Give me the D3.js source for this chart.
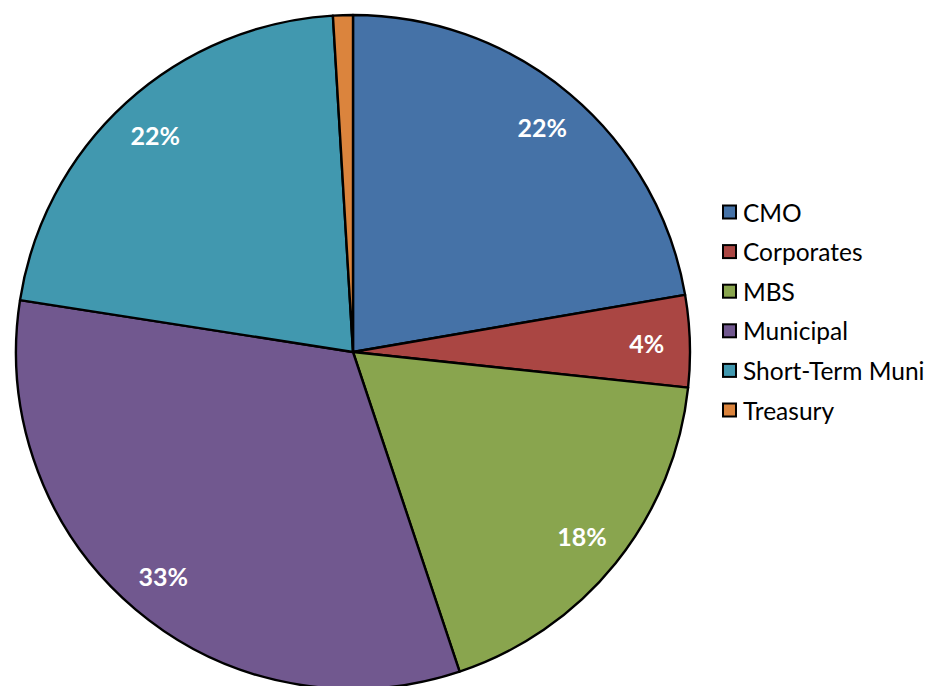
<!DOCTYPE html>
<html>
<head>
<meta charset="utf-8">
<script src="https://cdn.jsdelivr.net/npm/d3@7"></script>
<style>
  html, body { margin: 0; padding: 0; background: #ffffff; }
  svg { display: block; }
</style>
</head>
<body>
<svg id="chart" width="932" height="686"></svg>
<script>
const categories = ["CMO", "Corporates", "MBS", "Municipal", "Short-Term Muni", "Treasury"];
const values = [22.3, 4.4, 18.2, 32.6, 21.6, 0.95];
const colors = ["#4572A7", "#AA4643", "#89A54E", "#71588F", "#4198AF", "#DB843D"];

const svg = d3.select("#chart");
const cx = 353, cy = 352, R = 337;
const data = categories.map((c, i) => ({ name: c, value: values[i], color: colors[i] }));
const total = d3.sum(values);

const pie = d3.pie().sort(null).value(d => d.value);
const arc = d3.arc().innerRadius(0).outerRadius(R);
const labelArc = d3.arc().innerRadius(R * 0.872).outerRadius(R * 0.872);

const g = svg.append("g").attr("transform", `translate(${cx},${cy})`);
const arcs = pie(data);

g.selectAll("path.slice").data(arcs).join("path")
  .attr("class", "slice")
  .attr("d", arc)
  .attr("fill", d => d.data.color)
  .attr("stroke", "#000")
  .attr("stroke-width", 2.4)
  .attr("stroke-linejoin", "round");

g.selectAll("text.lbl").data(arcs.filter(d => d.data.value / total >= 0.02)).join("text")
  .attr("class", "lbl")
  .attr("transform", d => `translate(${labelArc.centroid(d)})`)
  .attr("text-anchor", "middle")
  .attr("dominant-baseline", "central")
  .attr("font-family", "Lato, 'Open Sans', sans-serif")
  .attr("font-weight", "bold")
  .attr("font-size", 25)
  .attr("fill", "#ffffff")
  .text(d => Math.round(d.data.value / total * 100) + "%");

const legend = svg.append("g").attr("transform", "translate(723,212)");
const rowH = 39.6;
const items = legend.selectAll("g").data(data).join("g")
  .attr("transform", (d, i) => `translate(0,${i * rowH})`);
items.append("rect")
  .attr("x", 0).attr("y", -6.5).attr("width", 13).attr("height", 13)
  .attr("fill", d => d.color).attr("stroke", "#000").attr("stroke-width", 2);
items.append("text")
  .attr("x", 20).attr("y", 0)
  .attr("dominant-baseline", "central")
  .attr("font-family", "Lato, 'Open Sans', sans-serif")
  .attr("font-size", 24.5)
  .attr("fill", "#000")
  .text(d => d.name);
</script>
</body>
</html>
